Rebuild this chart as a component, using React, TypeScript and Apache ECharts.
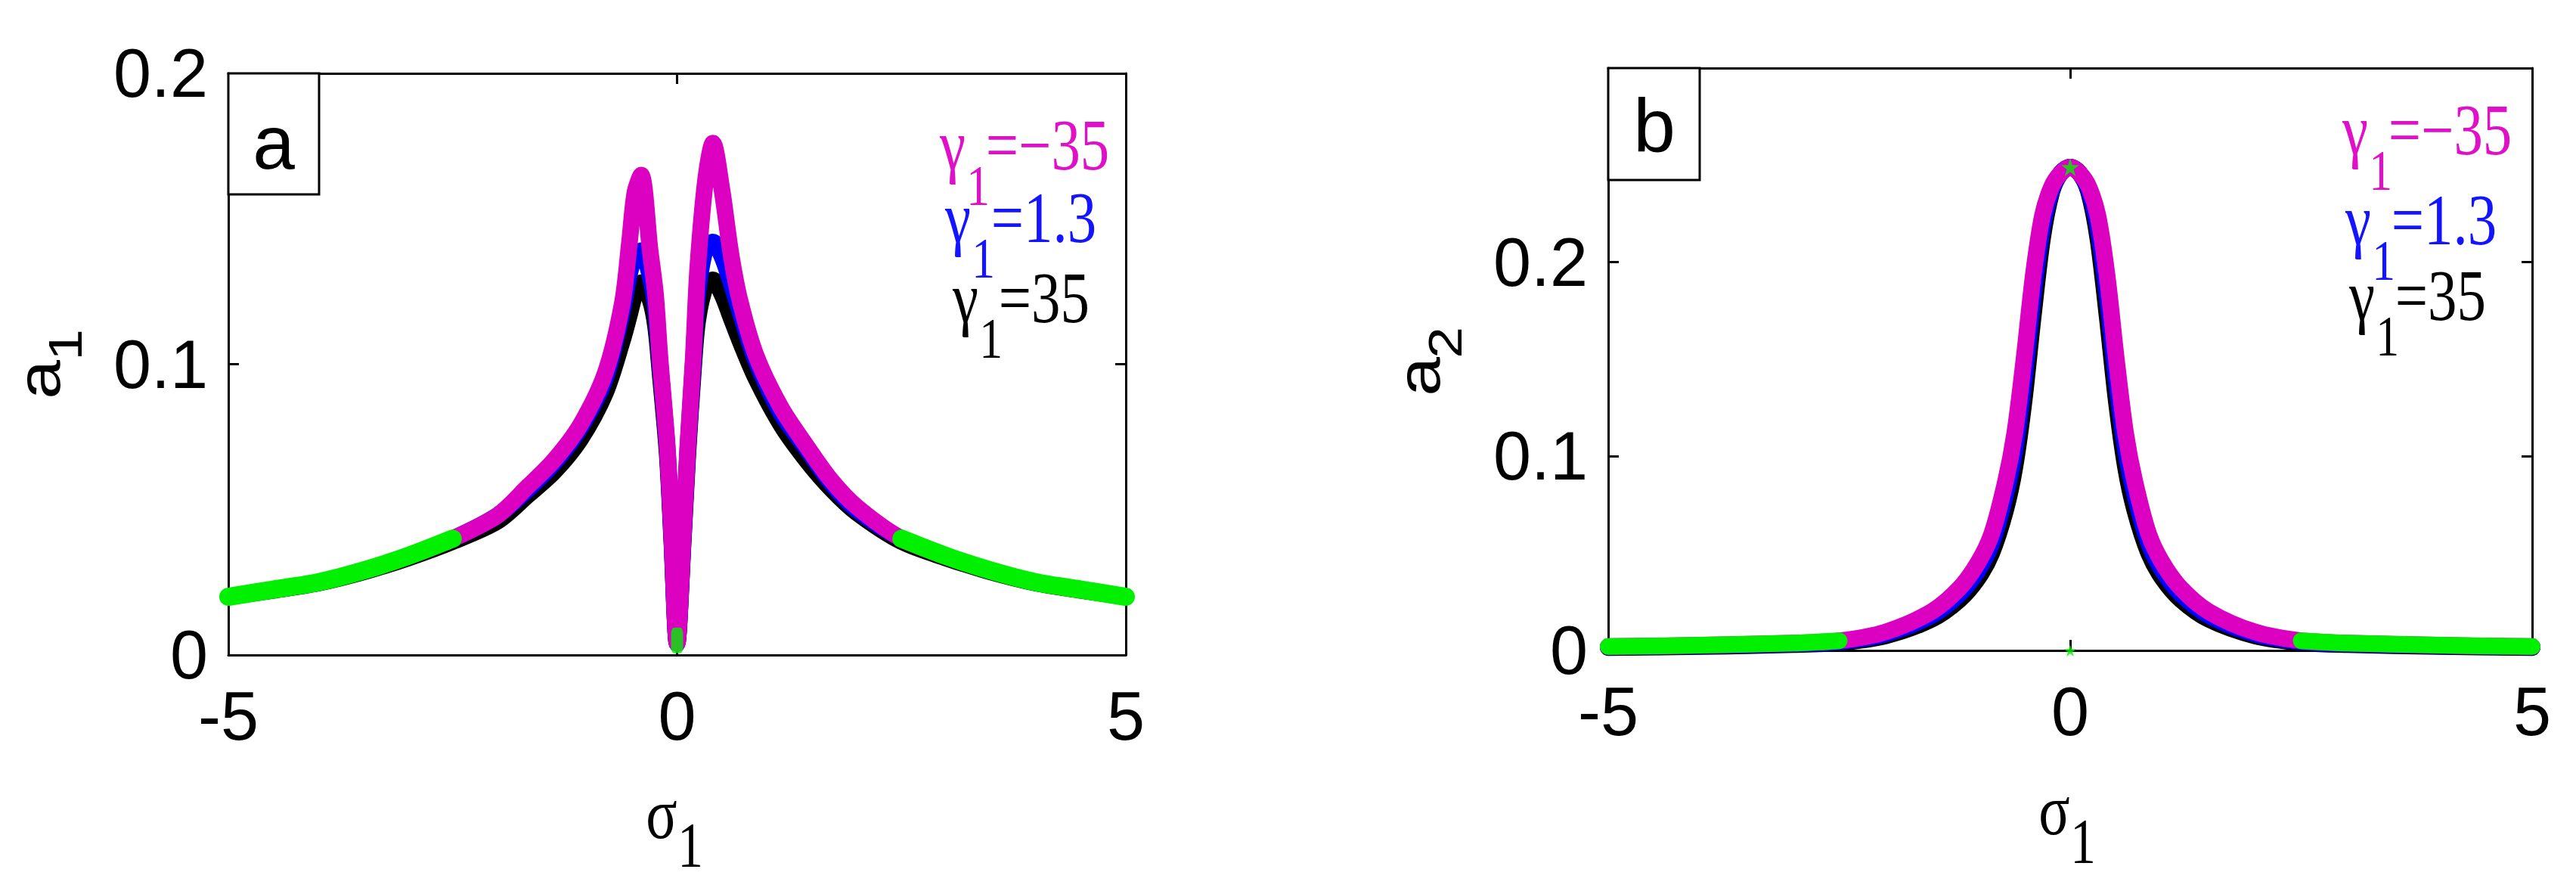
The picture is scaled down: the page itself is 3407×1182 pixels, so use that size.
import React, { useEffect, useRef } from 'react';
import * as echarts from 'echarts';

// ---------- data ----------
const SIGMA_A = [-5, -4.5, -4, -3.5, -3, -2.5, -2, -1.66, -1.37, -1.08, -0.8, -0.61, -0.53, -0.47, -0.4, -0.3, -0.24, -0.19, -0.11, -0.06, 0, 0.07, 0.12, 0.18, 0.23, 0.32, 0.4, 0.5, 0.6, 0.7, 0.88, 1.16, 1.44, 1.72, 2, 2.5, 3, 3.5, 4, 4.5, 5];
const A1_GAMMA_M35 = [0.020, 0.0225, 0.025, 0.029, 0.034, 0.040, 0.048, 0.058, 0.067, 0.079, 0.097, 0.121, 0.142, 0.159, 0.165, 0.139, 0.124, 0.102, 0.072, 0.042, 0.004, 0.042, 0.072, 0.102, 0.133, 0.164, 0.176, 0.160, 0.138, 0.122, 0.103, 0.085, 0.072, 0.060, 0.051, 0.040, 0.034, 0.029, 0.025, 0.0225, 0.020];
const A1_GAMMA_1_3 = [0.020, 0.0225, 0.025, 0.029, 0.034, 0.040, 0.048, 0.057, 0.066, 0.078, 0.095, 0.118, 0.131, 0.137, 0.139, 0.130, 0.119, 0.100, 0.071, 0.041, 0.004, 0.041, 0.071, 0.100, 0.124, 0.140, 0.142, 0.137, 0.128, 0.118, 0.101, 0.083, 0.071, 0.059, 0.050, 0.040, 0.034, 0.029, 0.025, 0.0225, 0.020];
const A1_GAMMA_35 = [0.020, 0.0222, 0.0247, 0.0285, 0.0333, 0.039, 0.046, 0.055, 0.063, 0.074, 0.090, 0.108, 0.117, 0.124, 0.128, 0.122, 0.113, 0.097, 0.069, 0.040, 0.004, 0.040, 0.069, 0.097, 0.115, 0.127, 0.129, 0.124, 0.116, 0.108, 0.095, 0.079, 0.067, 0.057, 0.049, 0.039, 0.0333, 0.0285, 0.0247, 0.0222, 0.020];
const A1_STABLE_POINT = [[0, 0.005]];

const SIGMA_B = [-5, -4, -3, -2.5, -2, -1.5, -1.2, -1, -0.85, -0.7, -0.6, -0.5, -0.4, -0.3, -0.2, -0.1, 0, 0.1, 0.2, 0.3, 0.4, 0.5, 0.6, 0.7, 0.85, 1, 1.2, 1.5, 2, 2.5, 3, 4, 5];
const A2_GAMMA_M35 = [0.002, 0.0027, 0.0038, 0.005, 0.0095, 0.020, 0.032, 0.045, 0.060, 0.087, 0.112, 0.150, 0.193, 0.224, 0.239, 0.246, 0.249, 0.246, 0.239, 0.224, 0.193, 0.150, 0.112, 0.087, 0.060, 0.045, 0.032, 0.020, 0.0095, 0.005, 0.0038, 0.0027, 0.002];
const A2_GAMMA_1_3 = [0.0018, 0.0024, 0.0034, 0.0045, 0.0085, 0.018, 0.029, 0.041, 0.055, 0.080, 0.103, 0.139, 0.183, 0.218, 0.237, 0.246, 0.249, 0.246, 0.237, 0.218, 0.183, 0.139, 0.103, 0.080, 0.055, 0.041, 0.029, 0.018, 0.0085, 0.0045, 0.0034, 0.0024, 0.0018];
const A2_GAMMA_35 = [0.0015, 0.002, 0.003, 0.004, 0.0075, 0.016, 0.026, 0.037, 0.050, 0.072, 0.094, 0.128, 0.172, 0.212, 0.236, 0.246, 0.249, 0.246, 0.236, 0.212, 0.172, 0.128, 0.094, 0.072, 0.050, 0.037, 0.026, 0.016, 0.0075, 0.004, 0.003, 0.002, 0.0015];
const A2_STABLE_POINTS = [[0, 0.249], [0, 0]];

const STABLE_LIMIT = 2.5; // |sigma| beyond which branch is drawn green
const X_TICKS = [-5, 0, 5];
const Y_MAX_A = 0.2;
const Y_MAX_B = 0.3;
const Y_INTERVAL = 0.1;
const LEGEND = [
  { rhs: '=\u221235', color: '#e010c8' },
  { rhs: '=1.3', color: '#1414ff' },
  { rhs: '=35', color: '#000000' },
];

// ---------- styles ----------
const SANS = 'Liberation Sans Narrow, Liberation Sans, Arial, sans-serif';
const SERIF = 'Liberation Serif, Times New Roman, serif';
const C_MAG = '#dc00c0';
const C_BLUE = '#0000ff';
const C_BLACK = '#000000';
const C_GREEN = '#00f000';
const STAR = 'path://M50,0 L61,35 L98,35 L68,57 L79,91 L50,70 L21,91 L32,57 L2,35 L39,35 Z';

const zip = (xs: number[], ys: number[]) => xs.map((x, i) => [x, ys[i]]);
const outer = (xs: number[], ys: number[], side: number) =>
  zip(xs, ys).filter(([x]) => (side < 0 ? x <= -STABLE_LIMIT : x >= STABLE_LIMIT));

function xAxes(gridIndex: number) {
  const common = {
    type: 'value', gridIndex, min: -5, max: 5, interval: 5,
    splitLine: { show: false },
    axisLine: { show: true, onZero: false, lineStyle: { color: '#000', width: 3 } },
    axisTick: { show: true, inside: true, length: 14, lineStyle: { color: '#000', width: 3 } },
  };
  return [
    { ...common, position: 'bottom',
      axisLabel: { show: true, color: '#000', fontSize: 90, fontFamily: SANS, margin: 36,
        customValues: X_TICKS } },
    { ...common, position: 'top', axisLabel: { show: false } },
  ];
}
function yAxes(gridIndex: number, max: number) {
  const common = {
    type: 'value', gridIndex, min: 0, max, interval: Y_INTERVAL,
    splitLine: { show: false },
    axisLine: { show: true, onZero: false, lineStyle: { color: '#000', width: 3 } },
    axisTick: { show: true, inside: true, length: 14, lineStyle: { color: '#000', width: 3 } },
  };
  return [
    { ...common, position: 'left',
      axisLabel: { show: true, color: '#000', fontSize: 90, fontFamily: SANS, margin: 27,
        showMaxLabel: max === Y_MAX_A } },
    { ...common, position: 'right', axisLabel: { show: false } },
  ];
}

function line(ax: number, data: number[][], color: string, width: number, z: number) {
  return {
    type: 'line', xAxisIndex: ax, yAxisIndex: ax, data, symbol: 'none', smooth: 0.3,
    clip: false, z, silent: true,
    lineStyle: { color, width, cap: 'round', join: 'round' },
  };
}

function legendGroup(x: number, y: number, rhs: string, color: string) {
  return {
    type: 'group', x, y, scaleX: 0.8,
    children: [
      { type: 'text', x: 0, y: 0, style: { text: '\u03b3', fontSize: 96, fontFamily: SERIF, fill: color, align: 'left', verticalAlign: 'middle', textAlign: 'left', textVerticalAlign: 'middle' } },
      { type: 'text', x: 44, y: 53, style: { text: '1', fontSize: 77, fontFamily: SERIF, fill: color, align: 'left', verticalAlign: 'middle', textAlign: 'left', textVerticalAlign: 'middle' } },
      { type: 'text', x: 76, y: 0, style: { text: rhs, fontSize: 96, fontFamily: SERIF, fill: color, align: 'left', verticalAlign: 'middle', textAlign: 'left', textVerticalAlign: 'middle' } },
    ],
  };
}

function txt(x: number, y: number, text: string, fontSize: number, fontFamily: string, extra: any = {}) {
  return {
    type: 'text', x, y, ...extra,
    style: { text, fontSize, fontFamily, fill: '#000', align: 'center', verticalAlign: 'middle', textAlign: 'center', textVerticalAlign: 'middle' },
  };
}

export default function App() {
  const ref = useRef<HTMLDivElement>(null);
  useEffect(() => {
    const chart = echarts.init(ref.current!, null, { renderer: 'svg' });
    const legendA = [[1243, 192], [1250, 288], [1260, 394]];
    const legendB = [[3098, 172], [3102, 291], [3107, 391]];
    const option: any = {
      animation: false,
      backgroundColor: '#ffffff',
      grid: [
        { left: 302, top: 97, width: 1187, height: 769 },
        { left: 2127, top: 90, width: 1222, height: 770 },
      ],
      xAxis: [...xAxes(0), ...xAxes(1)],
      yAxis: [...yAxes(0, Y_MAX_A), ...yAxes(1, Y_MAX_B)],
      series: [
        // panel a (axis index 0)
        line(0, zip(SIGMA_A, A1_GAMMA_35), C_BLACK, 22, 2),
        line(0, zip(SIGMA_A, A1_GAMMA_1_3), C_BLUE, 22, 3),
        line(0, zip(SIGMA_A, A1_GAMMA_M35), C_MAG, 22, 4),
        line(0, outer(SIGMA_A, A1_GAMMA_M35, -1), C_GREEN, 24, 5),
        line(0, outer(SIGMA_A, A1_GAMMA_M35, 1), C_GREEN, 24, 5),
        { type: 'scatter', xAxisIndex: 0, yAxisIndex: 0, data: A1_STABLE_POINT, symbol: 'roundRect',
          symbolSize: [16, 34], itemStyle: { color: C_GREEN }, z: 6, clip: false, silent: true },
        // panel b (axis index 2)
        line(2, zip(SIGMA_B, A2_GAMMA_35), C_BLACK, 22, 2),
        line(2, zip(SIGMA_B, A2_GAMMA_1_3), C_BLUE, 22, 3),
        line(2, zip(SIGMA_B, A2_GAMMA_M35), C_MAG, 22, 4),
        line(2, outer(SIGMA_B, A2_GAMMA_M35, -1), C_GREEN, 22, 5),
        line(2, outer(SIGMA_B, A2_GAMMA_M35, 1), C_GREEN, 22, 5),
        { type: 'scatter', xAxisIndex: 2, yAxisIndex: 2,
          data: A2_STABLE_POINTS.map((p, i) => ({ value: p, symbolSize: i === 0 ? 24 : 16 })),
          symbol: STAR, itemStyle: { color: C_GREEN }, z: 6, clip: false, silent: true },
      ],
      graphic: [
        // panel labels
        { type: 'rect', shape: { x: 302, y: 97, width: 120, height: 160 }, style: { fill: '#fff', stroke: '#000', lineWidth: 3 }, z: 10 },
        txt(362, 188, 'a', 100, SANS, { z: 11 }),
        { type: 'rect', shape: { x: 2127, y: 90, width: 121, height: 148 }, style: { fill: '#fff', stroke: '#000', lineWidth: 3 }, z: 10 },
        txt(2188, 166, 'b', 100, SANS, { z: 11 }),
        // legends
        ...legendA.map(([x, y], i) => ({ ...legendGroup(x, y, LEGEND[i].rhs, LEGEND[i].color), z: 12 })),
        ...legendB.map(([x, y], i) => ({ ...legendGroup(x, y, LEGEND[i].rhs, LEGEND[i].color), z: 12 })),
        // x axis titles
        txt(875, 1076, '\u03c3', 96, SERIF, { scaleX: 0.8 }),
        txt(913, 1117, '1', 84, SERIF, { scaleX: 0.8 }),
        txt(2717, 1071, '\u03c3', 96, SERIF, { scaleX: 0.8 }),
        txt(2755, 1112, '1', 84, SERIF, { scaleX: 0.8 }),
        // y axis titles
        txt(52, 502, 'a', 93, SANS, { rotation: Math.PI / 2, scaleY: 0.85 }),
        txt(86, 456, '1', 75, SANS, { rotation: Math.PI / 2, scaleY: 0.85 }),
        txt(1877, 498, 'a', 93, SANS, { rotation: Math.PI / 2, scaleY: 0.85 }),
        txt(1911, 453, '2', 75, SANS, { rotation: Math.PI / 2, scaleY: 0.85 }),
      ],
    };
    chart.setOption(option);
    return () => chart.dispose();
  }, []);
  return (
    <div
      ref={ref}
      style={{ position: 'absolute', left: 0, top: 0, width: 3407, height: 1182, background: '#fff' }}
    />
  );
}
